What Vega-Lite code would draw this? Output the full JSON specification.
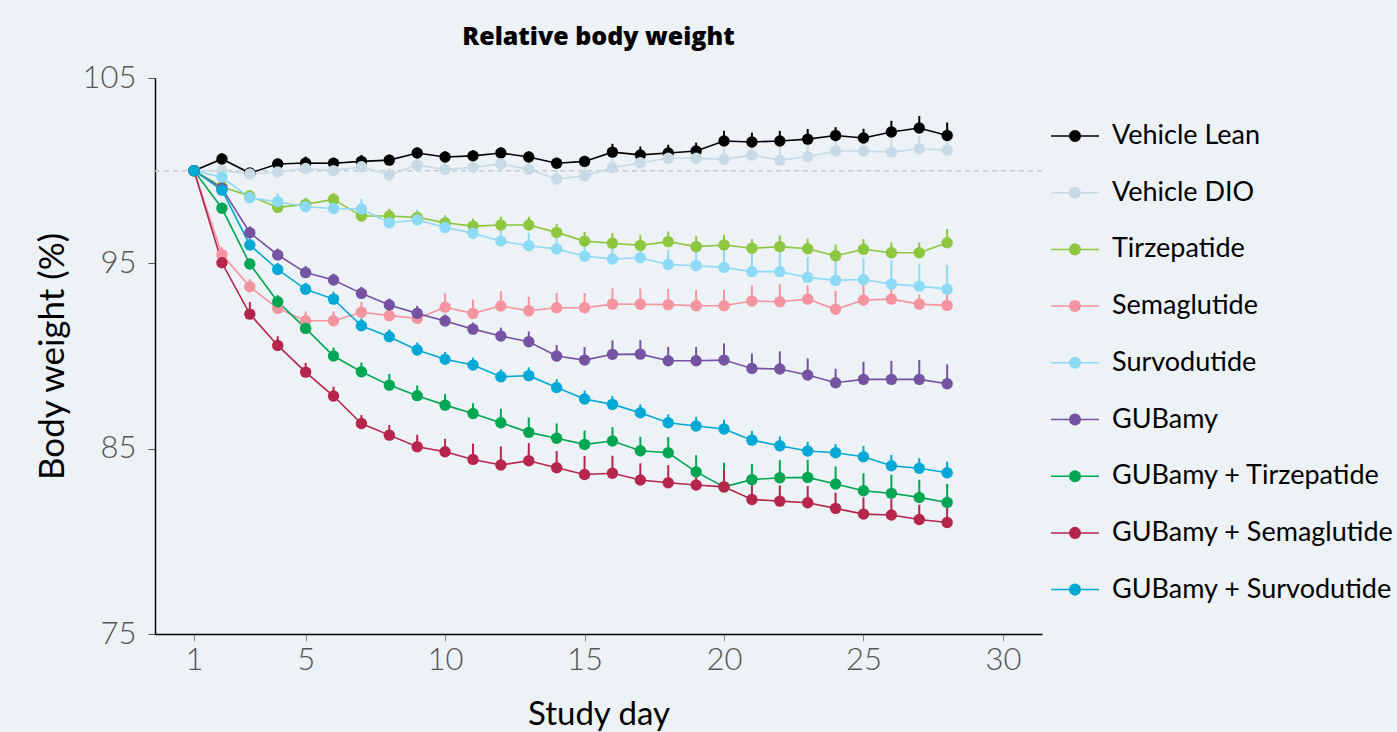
{
"$schema": "https://vega.github.io/schema/vega-lite/v6.json",
"width": 887, "height": 556,
"autosize": {"type": "none"},
"padding": {"left": 155, "top": 78, "right": 355, "bottom": 98},
"background": "#edf2f6",
"title": {"text": "Relative body weight", "fontSize": 25, "fontWeight": 800, "font": "Open Sans", "color": "black", "anchor": "middle", "offset": 12},
"config": {"view": {"stroke": null}, "font": "Lato"},
"layer": [
 {"data": {"values": [{"ref": 100}]},
  "mark": {"type": "rule", "color": "#c3c9d0", "strokeDash": [5, 4], "strokeWidth": 1.5},
  "encoding": {"y": {"field": "ref", "type": "quantitative"}}},
 {"data": {"values": [
{"group":"Vehicle Lean","day":1,"bw":100,"upper":100},
{"group":"Vehicle Lean","day":2,"bw":100.63,"upper":100.93},
{"group":"Vehicle Lean","day":3,"bw":99.87,"upper":100.07},
{"group":"Vehicle Lean","day":4,"bw":100.36,"upper":100.66},
{"group":"Vehicle Lean","day":5,"bw":100.41,"upper":100.76},
{"group":"Vehicle Lean","day":6,"bw":100.4,"upper":100.7},
{"group":"Vehicle Lean","day":7,"bw":100.5,"upper":100.85},
{"group":"Vehicle Lean","day":8,"bw":100.57,"upper":100.87},
{"group":"Vehicle Lean","day":9,"bw":100.95,"upper":101.25},
{"group":"Vehicle Lean","day":10,"bw":100.74,"upper":101.04},
{"group":"Vehicle Lean","day":11,"bw":100.8,"upper":101.1},
{"group":"Vehicle Lean","day":12,"bw":100.95,"upper":101.25},
{"group":"Vehicle Lean","day":13,"bw":100.74,"upper":101.04},
{"group":"Vehicle Lean","day":14,"bw":100.4,"upper":100.7},
{"group":"Vehicle Lean","day":15,"bw":100.5,"upper":100.8},
{"group":"Vehicle Lean","day":16,"bw":101.0,"upper":101.45},
{"group":"Vehicle Lean","day":17,"bw":100.85,"upper":101.3},
{"group":"Vehicle Lean","day":18,"bw":100.95,"upper":101.4},
{"group":"Vehicle Lean","day":19,"bw":101.06,"upper":101.51},
{"group":"Vehicle Lean","day":20,"bw":101.6,"upper":102.15},
{"group":"Vehicle Lean","day":21,"bw":101.55,"upper":102.05},
{"group":"Vehicle Lean","day":22,"bw":101.6,"upper":102.15},
{"group":"Vehicle Lean","day":23,"bw":101.7,"upper":102.25},
{"group":"Vehicle Lean","day":24,"bw":101.9,"upper":102.35},
{"group":"Vehicle Lean","day":25,"bw":101.76,"upper":102.26},
{"group":"Vehicle Lean","day":26,"bw":102.09,"upper":102.69},
{"group":"Vehicle Lean","day":27,"bw":102.3,"upper":102.95},
{"group":"Vehicle Lean","day":28,"bw":101.9,"upper":102.6},
{"group":"Vehicle DIO","day":1,"bw":100,"upper":100},
{"group":"Vehicle DIO","day":2,"bw":100.0,"upper":100.3},
{"group":"Vehicle DIO","day":3,"bw":99.82,"upper":100.12},
{"group":"Vehicle DIO","day":4,"bw":99.93,"upper":100.23},
{"group":"Vehicle DIO","day":5,"bw":100.12,"upper":100.42},
{"group":"Vehicle DIO","day":6,"bw":100.0,"upper":100.3},
{"group":"Vehicle DIO","day":7,"bw":100.21,"upper":100.56},
{"group":"Vehicle DIO","day":8,"bw":99.77,"upper":100.12},
{"group":"Vehicle DIO","day":9,"bw":100.3,"upper":100.65},
{"group":"Vehicle DIO","day":10,"bw":100.07,"upper":100.47},
{"group":"Vehicle DIO","day":11,"bw":100.18,"upper":100.58},
{"group":"Vehicle DIO","day":12,"bw":100.36,"upper":100.76},
{"group":"Vehicle DIO","day":13,"bw":100.07,"upper":100.47},
{"group":"Vehicle DIO","day":14,"bw":99.55,"upper":100.05},
{"group":"Vehicle DIO","day":15,"bw":99.73,"upper":100.23},
{"group":"Vehicle DIO","day":16,"bw":100.16,"upper":100.66},
{"group":"Vehicle DIO","day":17,"bw":100.43,"upper":100.93},
{"group":"Vehicle DIO","day":18,"bw":100.67,"upper":101.22},
{"group":"Vehicle DIO","day":19,"bw":100.67,"upper":101.22},
{"group":"Vehicle DIO","day":20,"bw":100.61,"upper":101.21},
{"group":"Vehicle DIO","day":21,"bw":100.84,"upper":101.49},
{"group":"Vehicle DIO","day":22,"bw":100.57,"upper":101.27},
{"group":"Vehicle DIO","day":23,"bw":100.75,"upper":101.45},
{"group":"Vehicle DIO","day":24,"bw":101.06,"upper":101.76},
{"group":"Vehicle DIO","day":25,"bw":101.06,"upper":101.76},
{"group":"Vehicle DIO","day":26,"bw":101.0,"upper":101.7},
{"group":"Vehicle DIO","day":27,"bw":101.18,"upper":101.88},
{"group":"Vehicle DIO","day":28,"bw":101.11,"upper":101.81},
{"group":"Tirzepatide","day":1,"bw":100,"upper":100},
{"group":"Tirzepatide","day":2,"bw":99.13,"upper":99.43},
{"group":"Tirzepatide","day":3,"bw":98.63,"upper":98.93},
{"group":"Tirzepatide","day":4,"bw":98.02,"upper":98.37},
{"group":"Tirzepatide","day":5,"bw":98.18,"upper":98.53},
{"group":"Tirzepatide","day":6,"bw":98.45,"upper":98.8},
{"group":"Tirzepatide","day":7,"bw":97.55,"upper":97.95},
{"group":"Tirzepatide","day":8,"bw":97.55,"upper":97.95},
{"group":"Tirzepatide","day":9,"bw":97.48,"upper":97.88},
{"group":"Tirzepatide","day":10,"bw":97.19,"upper":97.59},
{"group":"Tirzepatide","day":11,"bw":97.01,"upper":97.41},
{"group":"Tirzepatide","day":12,"bw":97.07,"upper":97.52},
{"group":"Tirzepatide","day":13,"bw":97.07,"upper":97.52},
{"group":"Tirzepatide","day":14,"bw":96.67,"upper":97.12},
{"group":"Tirzepatide","day":15,"bw":96.2,"upper":96.7},
{"group":"Tirzepatide","day":16,"bw":96.08,"upper":96.63},
{"group":"Tirzepatide","day":17,"bw":95.97,"upper":96.52},
{"group":"Tirzepatide","day":18,"bw":96.17,"upper":96.72},
{"group":"Tirzepatide","day":19,"bw":95.9,"upper":96.45},
{"group":"Tirzepatide","day":20,"bw":95.99,"upper":96.54},
{"group":"Tirzepatide","day":21,"bw":95.81,"upper":96.31},
{"group":"Tirzepatide","day":22,"bw":95.9,"upper":96.5},
{"group":"Tirzepatide","day":23,"bw":95.79,"upper":96.34},
{"group":"Tirzepatide","day":24,"bw":95.41,"upper":96.01},
{"group":"Tirzepatide","day":25,"bw":95.76,"upper":96.31},
{"group":"Tirzepatide","day":26,"bw":95.57,"upper":96.12},
{"group":"Tirzepatide","day":27,"bw":95.57,"upper":96.12},
{"group":"Tirzepatide","day":28,"bw":96.11,"upper":96.86},
{"group":"Semaglutide","day":1,"bw":100,"upper":100},
{"group":"Semaglutide","day":2,"bw":95.47,"upper":95.87},
{"group":"Semaglutide","day":3,"bw":93.74,"upper":94.14},
{"group":"Semaglutide","day":4,"bw":92.57,"upper":93.07},
{"group":"Semaglutide","day":5,"bw":91.9,"upper":92.4},
{"group":"Semaglutide","day":6,"bw":91.9,"upper":92.4},
{"group":"Semaglutide","day":7,"bw":92.36,"upper":92.91},
{"group":"Semaglutide","day":8,"bw":92.18,"upper":92.78},
{"group":"Semaglutide","day":9,"bw":92.03,"upper":92.68},
{"group":"Semaglutide","day":10,"bw":92.63,"upper":93.38},
{"group":"Semaglutide","day":11,"bw":92.3,"upper":93.05},
{"group":"Semaglutide","day":12,"bw":92.7,"upper":93.5},
{"group":"Semaglutide","day":13,"bw":92.44,"upper":93.19},
{"group":"Semaglutide","day":14,"bw":92.6,"upper":93.4},
{"group":"Semaglutide","day":15,"bw":92.6,"upper":93.4},
{"group":"Semaglutide","day":16,"bw":92.8,"upper":93.65},
{"group":"Semaglutide","day":17,"bw":92.79,"upper":93.64},
{"group":"Semaglutide","day":18,"bw":92.77,"upper":93.62},
{"group":"Semaglutide","day":19,"bw":92.71,"upper":93.56},
{"group":"Semaglutide","day":20,"bw":92.71,"upper":93.56},
{"group":"Semaglutide","day":21,"bw":92.97,"upper":93.82},
{"group":"Semaglutide","day":22,"bw":92.93,"upper":93.88},
{"group":"Semaglutide","day":23,"bw":93.07,"upper":93.82},
{"group":"Semaglutide","day":24,"bw":92.52,"upper":93.52},
{"group":"Semaglutide","day":25,"bw":93.02,"upper":94.02},
{"group":"Semaglutide","day":26,"bw":93.07,"upper":93.92},
{"group":"Semaglutide","day":27,"bw":92.8,"upper":93.3},
{"group":"Semaglutide","day":28,"bw":92.73,"upper":93.63},
{"group":"Survodutide","day":1,"bw":100,"upper":100},
{"group":"Survodutide","day":2,"bw":99.64,"upper":99.94},
{"group":"Survodutide","day":3,"bw":98.54,"upper":98.94},
{"group":"Survodutide","day":4,"bw":98.32,"upper":98.77},
{"group":"Survodutide","day":5,"bw":98.05,"upper":98.55},
{"group":"Survodutide","day":6,"bw":97.96,"upper":98.46},
{"group":"Survodutide","day":7,"bw":97.93,"upper":98.48},
{"group":"Survodutide","day":8,"bw":97.19,"upper":97.74},
{"group":"Survodutide","day":9,"bw":97.34,"upper":97.89},
{"group":"Survodutide","day":10,"bw":96.94,"upper":97.54},
{"group":"Survodutide","day":11,"bw":96.62,"upper":97.27},
{"group":"Survodutide","day":12,"bw":96.2,"upper":96.9},
{"group":"Survodutide","day":13,"bw":95.95,"upper":96.65},
{"group":"Survodutide","day":14,"bw":95.77,"upper":96.52},
{"group":"Survodutide","day":15,"bw":95.39,"upper":96.14},
{"group":"Survodutide","day":16,"bw":95.23,"upper":95.98},
{"group":"Survodutide","day":17,"bw":95.3,"upper":96.05},
{"group":"Survodutide","day":18,"bw":94.94,"upper":95.74},
{"group":"Survodutide","day":19,"bw":94.87,"upper":95.72},
{"group":"Survodutide","day":20,"bw":94.78,"upper":95.68},
{"group":"Survodutide","day":21,"bw":94.55,"upper":95.55},
{"group":"Survodutide","day":22,"bw":94.55,"upper":95.7},
{"group":"Survodutide","day":23,"bw":94.24,"upper":95.34},
{"group":"Survodutide","day":24,"bw":94.08,"upper":95.28},
{"group":"Survodutide","day":25,"bw":94.13,"upper":95.28},
{"group":"Survodutide","day":26,"bw":93.88,"upper":95.18},
{"group":"Survodutide","day":27,"bw":93.77,"upper":94.97},
{"group":"Survodutide","day":28,"bw":93.61,"upper":94.91},
{"group":"GUBamy","day":1,"bw":100,"upper":100},
{"group":"GUBamy","day":2,"bw":99.05,"upper":99.35},
{"group":"GUBamy","day":3,"bw":96.65,"upper":97.0},
{"group":"GUBamy","day":4,"bw":95.45,"upper":95.8},
{"group":"GUBamy","day":5,"bw":94.5,"upper":94.85},
{"group":"GUBamy","day":6,"bw":94.1,"upper":94.45},
{"group":"GUBamy","day":7,"bw":93.38,"upper":93.73},
{"group":"GUBamy","day":8,"bw":92.75,"upper":93.1},
{"group":"GUBamy","day":9,"bw":92.3,"upper":92.7},
{"group":"GUBamy","day":10,"bw":91.89,"upper":92.24},
{"group":"GUBamy","day":11,"bw":91.45,"upper":91.8},
{"group":"GUBamy","day":12,"bw":91.08,"upper":91.53},
{"group":"GUBamy","day":13,"bw":90.77,"upper":91.32},
{"group":"GUBamy","day":14,"bw":90.0,"upper":90.6},
{"group":"GUBamy","day":15,"bw":89.78,"upper":90.48},
{"group":"GUBamy","day":16,"bw":90.09,"upper":90.84},
{"group":"GUBamy","day":17,"bw":90.1,"upper":90.85},
{"group":"GUBamy","day":18,"bw":89.74,"upper":90.49},
{"group":"GUBamy","day":19,"bw":89.74,"upper":90.49},
{"group":"GUBamy","day":20,"bw":89.78,"upper":90.68},
{"group":"GUBamy","day":21,"bw":89.33,"upper":90.13},
{"group":"GUBamy","day":22,"bw":89.3,"upper":90.25},
{"group":"GUBamy","day":23,"bw":88.97,"upper":89.87},
{"group":"GUBamy","day":24,"bw":88.56,"upper":89.31},
{"group":"GUBamy","day":25,"bw":88.74,"upper":89.69},
{"group":"GUBamy","day":26,"bw":88.74,"upper":89.74},
{"group":"GUBamy","day":27,"bw":88.74,"upper":89.79},
{"group":"GUBamy","day":28,"bw":88.5,"upper":89.55},
{"group":"GUBamy + Tirzepatide","day":1,"bw":100,"upper":100},
{"group":"GUBamy + Tirzepatide","day":2,"bw":97.97,"upper":98.27},
{"group":"GUBamy + Tirzepatide","day":3,"bw":94.96,"upper":95.26},
{"group":"GUBamy + Tirzepatide","day":4,"bw":92.93,"upper":93.28},
{"group":"GUBamy + Tirzepatide","day":5,"bw":91.49,"upper":91.89},
{"group":"GUBamy + Tirzepatide","day":6,"bw":90.0,"upper":90.45},
{"group":"GUBamy + Tirzepatide","day":7,"bw":89.15,"upper":89.65},
{"group":"GUBamy + Tirzepatide","day":8,"bw":88.43,"upper":89.03},
{"group":"GUBamy + Tirzepatide","day":9,"bw":87.86,"upper":88.41},
{"group":"GUBamy + Tirzepatide","day":10,"bw":87.35,"upper":87.95},
{"group":"GUBamy + Tirzepatide","day":11,"bw":86.9,"upper":87.45},
{"group":"GUBamy + Tirzepatide","day":12,"bw":86.4,"upper":87.15},
{"group":"GUBamy + Tirzepatide","day":13,"bw":85.88,"upper":86.68},
{"group":"GUBamy + Tirzepatide","day":14,"bw":85.56,"upper":86.36},
{"group":"GUBamy + Tirzepatide","day":15,"bw":85.23,"upper":85.98},
{"group":"GUBamy + Tirzepatide","day":16,"bw":85.41,"upper":86.16},
{"group":"GUBamy + Tirzepatide","day":17,"bw":84.89,"upper":85.64},
{"group":"GUBamy + Tirzepatide","day":18,"bw":84.78,"upper":85.63},
{"group":"GUBamy + Tirzepatide","day":19,"bw":83.75,"upper":84.65},
{"group":"GUBamy + Tirzepatide","day":20,"bw":82.94,"upper":84.24},
{"group":"GUBamy + Tirzepatide","day":21,"bw":83.33,"upper":84.18},
{"group":"GUBamy + Tirzepatide","day":22,"bw":83.43,"upper":84.38},
{"group":"GUBamy + Tirzepatide","day":23,"bw":83.45,"upper":84.4},
{"group":"GUBamy + Tirzepatide","day":24,"bw":83.09,"upper":84.04},
{"group":"GUBamy + Tirzepatide","day":25,"bw":82.73,"upper":83.68},
{"group":"GUBamy + Tirzepatide","day":26,"bw":82.59,"upper":83.59},
{"group":"GUBamy + Tirzepatide","day":27,"bw":82.37,"upper":83.32},
{"group":"GUBamy + Tirzepatide","day":28,"bw":82.1,"upper":83.1},
{"group":"GUBamy + Semaglutide","day":1,"bw":100,"upper":100},
{"group":"GUBamy + Semaglutide","day":2,"bw":95.03,"upper":95.43},
{"group":"GUBamy + Semaglutide","day":3,"bw":92.26,"upper":92.91},
{"group":"GUBamy + Semaglutide","day":4,"bw":90.57,"upper":91.07},
{"group":"GUBamy + Semaglutide","day":5,"bw":89.13,"upper":89.63},
{"group":"GUBamy + Semaglutide","day":6,"bw":87.84,"upper":88.34},
{"group":"GUBamy + Semaglutide","day":7,"bw":86.36,"upper":86.81},
{"group":"GUBamy + Semaglutide","day":8,"bw":85.73,"upper":86.28},
{"group":"GUBamy + Semaglutide","day":9,"bw":85.1,"upper":85.75},
{"group":"GUBamy + Semaglutide","day":10,"bw":84.83,"upper":85.53},
{"group":"GUBamy + Semaglutide","day":11,"bw":84.42,"upper":85.27},
{"group":"GUBamy + Semaglutide","day":12,"bw":84.12,"upper":85.12},
{"group":"GUBamy + Semaglutide","day":13,"bw":84.35,"upper":85.3},
{"group":"GUBamy + Semaglutide","day":14,"bw":83.97,"upper":84.87},
{"group":"GUBamy + Semaglutide","day":15,"bw":83.61,"upper":84.61},
{"group":"GUBamy + Semaglutide","day":16,"bw":83.67,"upper":84.62},
{"group":"GUBamy + Semaglutide","day":17,"bw":83.31,"upper":84.21},
{"group":"GUBamy + Semaglutide","day":18,"bw":83.16,"upper":84.11},
{"group":"GUBamy + Semaglutide","day":19,"bw":83.04,"upper":83.94},
{"group":"GUBamy + Semaglutide","day":20,"bw":82.94,"upper":83.84},
{"group":"GUBamy + Semaglutide","day":21,"bw":82.26,"upper":83.16},
{"group":"GUBamy + Semaglutide","day":22,"bw":82.17,"upper":83.02},
{"group":"GUBamy + Semaglutide","day":23,"bw":82.08,"upper":82.98},
{"group":"GUBamy + Semaglutide","day":24,"bw":81.78,"upper":82.63},
{"group":"GUBamy + Semaglutide","day":25,"bw":81.47,"upper":82.37},
{"group":"GUBamy + Semaglutide","day":26,"bw":81.42,"upper":82.27},
{"group":"GUBamy + Semaglutide","day":27,"bw":81.18,"upper":81.98},
{"group":"GUBamy + Semaglutide","day":28,"bw":81.02,"upper":81.92},
{"group":"GUBamy + Survodutide","day":1,"bw":100,"upper":100},
{"group":"GUBamy + Survodutide","day":2,"bw":98.95,"upper":99.25},
{"group":"GUBamy + Survodutide","day":3,"bw":95.99,"upper":96.34},
{"group":"GUBamy + Survodutide","day":4,"bw":94.67,"upper":95.02},
{"group":"GUBamy + Survodutide","day":5,"bw":93.6,"upper":93.95},
{"group":"GUBamy + Survodutide","day":6,"bw":93.07,"upper":93.47},
{"group":"GUBamy + Survodutide","day":7,"bw":91.63,"upper":92.03},
{"group":"GUBamy + Survodutide","day":8,"bw":91.04,"upper":91.44},
{"group":"GUBamy + Survodutide","day":9,"bw":90.32,"upper":90.72},
{"group":"GUBamy + Survodutide","day":10,"bw":89.82,"upper":90.22},
{"group":"GUBamy + Survodutide","day":11,"bw":89.51,"upper":89.91},
{"group":"GUBamy + Survodutide","day":12,"bw":88.88,"upper":89.28},
{"group":"GUBamy + Survodutide","day":13,"bw":88.94,"upper":89.39},
{"group":"GUBamy + Survodutide","day":14,"bw":88.3,"upper":88.75},
{"group":"GUBamy + Survodutide","day":15,"bw":87.68,"upper":88.13},
{"group":"GUBamy + Survodutide","day":16,"bw":87.39,"upper":87.84},
{"group":"GUBamy + Survodutide","day":17,"bw":86.94,"upper":87.39},
{"group":"GUBamy + Survodutide","day":18,"bw":86.4,"upper":86.85},
{"group":"GUBamy + Survodutide","day":19,"bw":86.22,"upper":86.72},
{"group":"GUBamy + Survodutide","day":20,"bw":86.06,"upper":86.56},
{"group":"GUBamy + Survodutide","day":21,"bw":85.46,"upper":85.96},
{"group":"GUBamy + Survodutide","day":22,"bw":85.16,"upper":85.66},
{"group":"GUBamy + Survodutide","day":23,"bw":84.87,"upper":85.37},
{"group":"GUBamy + Survodutide","day":24,"bw":84.78,"upper":85.25},
{"group":"GUBamy + Survodutide","day":25,"bw":84.56,"upper":85.14},
{"group":"GUBamy + Survodutide","day":26,"bw":84.08,"upper":84.66},
{"group":"GUBamy + Survodutide","day":27,"bw":83.94,"upper":84.49},
{"group":"GUBamy + Survodutide","day":28,"bw":83.7,"upper":84.3}
 ]},
 "encoding": {
  "x": {"field": "day", "type": "quantitative",
        "scale": {"domain": [-0.4, 31.4], "nice": false, "zero": false},
        "axis": {"values": [1, 5, 10, 15, 20, 25, 30], "title": "Study day", "grid": false,
                 "titleFontSize": 33, "titleFontWeight": "normal", "titleColor": "black", "titleFont": "Lato", "titlePadding": 23,
                 "labelFontSize": 31, "labelFontWeight": 300, "labelColor": "#555555", "labelFont": "Lato", "labelPadding": 4,
                 "tickColor": "#888888", "tickSize": 7, "tickWidth": 1, "domainColor": "black", "domainWidth": 1.5}},
  "y": {"field": "bw", "type": "quantitative",
        "scale": {"domain": [75, 105], "nice": false, "zero": false},
        "axis": {"values": [75, 85, 95, 105], "title": "Body weight (%)", "grid": false,
                 "titleFontSize": 35, "titleFontWeight": "normal", "titleColor": "black", "titleFont": "Lato", "titlePadding": 12,
                 "labelFontSize": 31, "labelFontWeight": 300, "labelColor": "#555555", "labelFont": "Lato", "labelPadding": 12,
                 "tickColor": "#555555", "tickSize": 7, "tickWidth": 1, "domainColor": "black", "domainWidth": 1.5}},
  "color": {"field": "group", "type": "nominal",
            "scale": {"domain": ["Vehicle Lean", "Vehicle DIO", "Tirzepatide", "Semaglutide", "Survodutide", "GUBamy", "GUBamy + Tirzepatide", "GUBamy + Semaglutide", "GUBamy + Survodutide"],
                      "range": ["#000000", "#c8dae6", "#8dc63f", "#f4949f", "#8ddaf7", "#7652a3", "#00a651", "#b6254b", "#00a8d6"]},
            "legend": {"title": null, "orient": "none", "legendX": 895, "legendY": 43, "padding": 0,
                       "symbolType": "M-1,0L1,0M-0.22,0A0.22,0.22,0,1,1,0.22,0A0.22,0.22,0,1,1,-0.22,0Z",
                       "symbolSize": 2304, "symbolStrokeWidth": 1.5, "symbolOpacity": 1,
                       "labelFontSize": 27, "labelFont": "Lato", "labelColor": "black", "labelOffset": 12, "labelLimit": 500,
                       "clipHeight": 30, "rowPadding": 26.7,
                       "encode": {"symbols": {"update": {"fill": {"scale": "color", "field": "value"}, "stroke": {"scale": "color", "field": "value"}, "opacity": {"value": 1}}}}}}
 },
 "layer": [
  {"mark": {"type": "line", "strokeWidth": 1.6}},
  {"mark": {"type": "rule", "strokeWidth": 2}, "encoding": {"y2": {"field": "upper"}}},
  {"mark": {"type": "point", "filled": true, "size": 130, "opacity": 1}}
 ]}
]
}
